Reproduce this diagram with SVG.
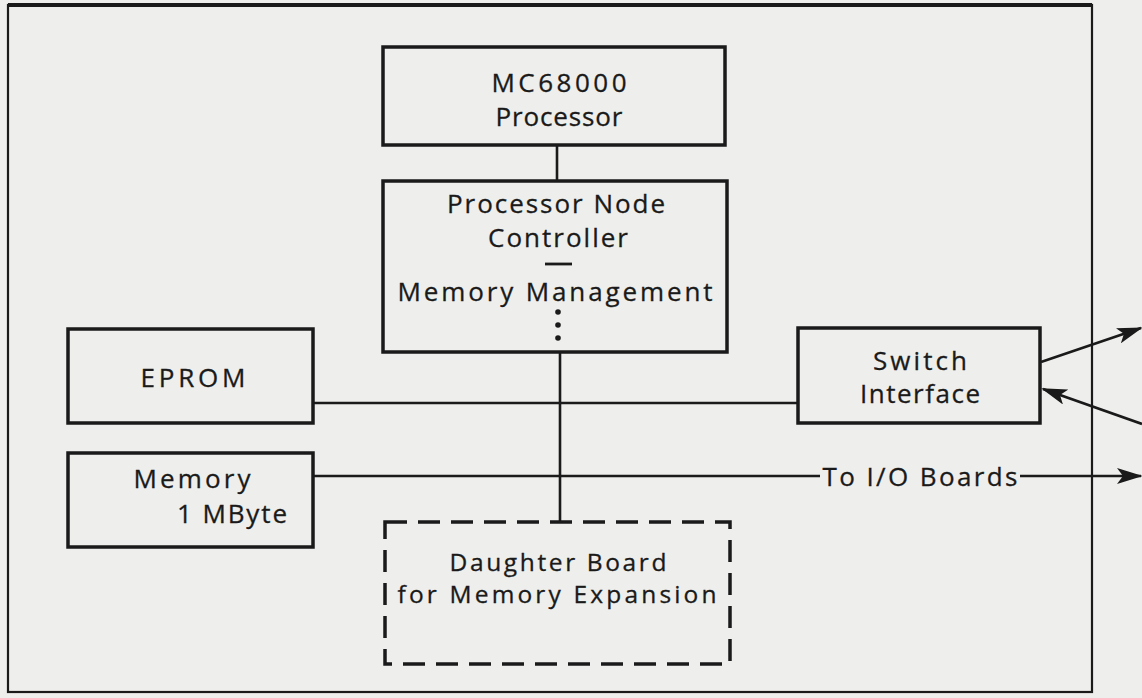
<svg xmlns="http://www.w3.org/2000/svg" width="1142" height="698" viewBox="0 0 1142 698">
<style>
.box{fill:none;stroke:#1a1a1a;stroke-width:3.5}
.dash{fill:none;stroke:#1a1a1a;stroke-width:3.5;stroke-dasharray:22 11}
.ln{fill:none;stroke:#1a1a1a;stroke-width:2.6}
.t{font-family:"Open Sans",Lato,"Liberation Sans",sans-serif;font-size:26px;fill:#1a1a1a;stroke:#1a1a1a;stroke-width:0.3;text-anchor:middle}
.s{font-size:24.5px}
</style>
<defs>
<marker id="ah" viewBox="0 0 26 16" refX="24" refY="8" markerWidth="26" markerHeight="16" markerUnits="userSpaceOnUse" orient="auto">
<path d="M0,0 L26,8 L0,16 L6,8 Z" fill="#1a1a1a"/>
</marker>
</defs>
<rect x="0" y="0" width="1142" height="698" fill="#eeeeec"/>
<g id="frame">
<rect x="8" y="5" width="1084" height="687" fill="none" stroke="#1a1a1a" stroke-width="2.2"/>
<line x1="8" y1="5" x2="1092" y2="5" stroke="#1a1a1a" stroke-width="4"/>
</g>
<g id="connectors">
<line class="ln" x1="557" y1="146" x2="557" y2="180"/>
<line class="ln" x1="560" y1="352" x2="560" y2="522"/>
<line class="ln" x1="313" y1="403" x2="798" y2="403"/>
<line class="ln" x1="313" y1="476" x2="820" y2="476"/>
<line class="ln" x1="1020" y1="476" x2="1141" y2="476" marker-end="url(#ah)"/>
<line class="ln" x1="1041" y1="362" x2="1141" y2="328" marker-end="url(#ah)"/>
<line class="ln" x1="1142" y1="424" x2="1043" y2="389" marker-end="url(#ah)"/>
<text class="t" x="920" y="486" textLength="195" lengthAdjust="spacing">To I/O Boards</text>
</g>
<g id="mc68000">
<rect class="box" x="383" y="47" width="342" height="98"/>
<text class="t" x="559" y="92" textLength="135" lengthAdjust="spacing">MC68000</text>
<text class="t" x="559" y="126" textLength="127" lengthAdjust="spacing">Processor</text>
</g>
<g id="pnc">
<rect class="box" x="383" y="181" width="344" height="171"/>
<text class="t" x="556" y="213" textLength="218" lengthAdjust="spacing">Processor Node</text>
<text class="t" x="558" y="247" textLength="140" lengthAdjust="spacing">Controller</text>
<line x1="545" y1="264" x2="572" y2="264" stroke="#1a1a1a" stroke-width="2.8"/>
<text class="t" x="555" y="301" textLength="315" lengthAdjust="spacing">Memory Management</text>
<circle cx="558" cy="312" r="2.8" fill="#1a1a1a"/>
<circle cx="558" cy="325" r="2.8" fill="#1a1a1a"/>
<circle cx="558" cy="338" r="2.8" fill="#1a1a1a"/>
</g>
<g id="eprom">
<rect class="box" x="68" y="329" width="245" height="94"/>
<text class="t" x="193" y="387" textLength="105" lengthAdjust="spacing">EPROM</text>
</g>
<g id="memory">
<rect class="box" x="68" y="453" width="245" height="94"/>
<text class="t" x="192" y="488" textLength="117" lengthAdjust="spacing">Memory</text>
<text class="t" x="232" y="523" textLength="110" lengthAdjust="spacing">1 MByte</text>
</g>
<g id="switch">
<rect class="box" x="798" y="328" width="242" height="95"/>
<text class="t" x="920" y="370" textLength="94" lengthAdjust="spacing">Switch</text>
<text class="t" x="920" y="403" textLength="120" lengthAdjust="spacing">Interface</text>
</g>
<g id="daughter">
<rect class="dash" x="385" y="522" width="345" height="142"/>
<text class="t s" x="558" y="571" textLength="217" lengthAdjust="spacing">Daughter Board</text>
<text class="t s" x="557" y="603" textLength="319" lengthAdjust="spacing">for Memory Expansion</text>
</g>
</svg>
